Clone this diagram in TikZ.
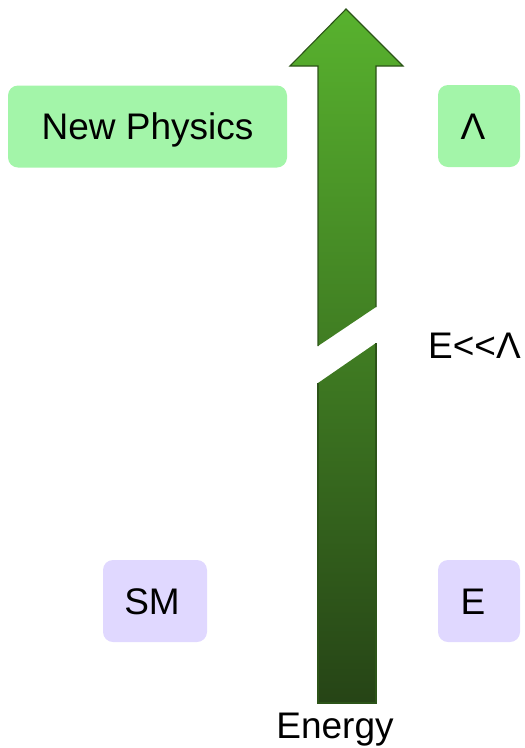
\documentclass[tikz,border=0pt]{standalone}
\usepackage{fontspec}
\setmainfont{Liberation Sans}
\definecolor{npgreen}{RGB}{163,245,169}
\definecolor{smpurple}{RGB}{224,216,255}
\definecolor{arrtop}{RGB}{88,178,46}
\definecolor{arrbot}{RGB}{38,68,22}
\definecolor{arredge}{RGB}{44,84,24}
\begin{document}
\begin{tikzpicture}[x=1pt,y=-1pt,
  box/.style={rounded corners=10pt, minimum height=82pt, inner sep=0pt},
  lbl/.style={inner sep=0pt, font=\fontsize{37}{40}\selectfont},
  boxtext/.style={lbl, text height=26.5pt, text depth=0pt},
  edge/.style={draw=arredge, line width=1.1pt, line join=miter}]
\useasboundingbox (0,0) rectangle (525,748);
% arrow
\shade[top color=arrtop, bottom color=arrbot]
  (318,346) -- (318,66) -- (290,66) -- (346,9) -- (403,66) -- (376,66) -- (376,307) -- cycle
  (318,383) -- (376,343) -- (376,703) -- (318,703) -- cycle;
\draw[edge] (318,346) -- (318,66) -- (290,66) -- (346,9) -- (403,66) -- (376,66) -- (376,307);
\draw[edge] (376,343) -- (376,703) -- (318,703) -- (318,383);
% boxes
\node[box, fill=npgreen, minimum width=279pt,
  label={[boxtext]center:New Physics}] (np) at (147.5,126.5) {};
\node[box, fill=npgreen, minimum width=82pt,
  label={[boxtext, xshift=-6pt]center:Λ}] (lam) at (479,126) {};
\node[box, fill=smpurple, minimum width=104pt,
  label={[boxtext, xshift=-3pt]center:SM}] (sm) at (155,601) {};
\node[box, fill=smpurple, minimum width=82pt,
  label={[boxtext, xshift=-6pt]center:E}] (e) at (479,601) {};
% labels
\node[lbl, anchor=base west] (ell) at (428,358) {E<\kern0pt<Λ};
\node[lbl, anchor=base] (energy) at (335,738) {Energy};
\end{tikzpicture}
\end{document}
